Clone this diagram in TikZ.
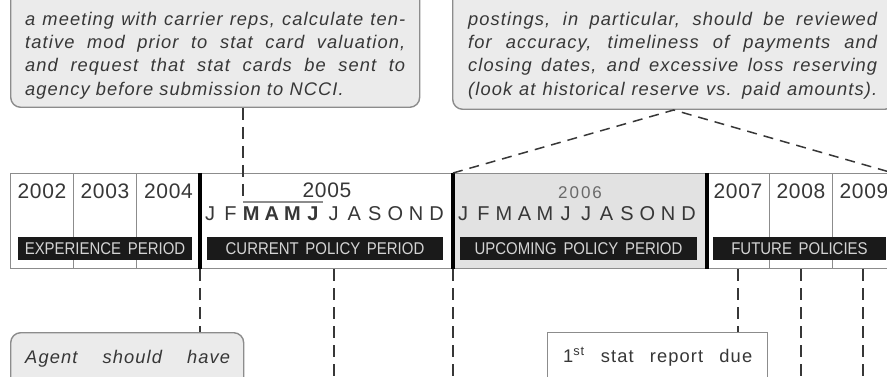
\documentclass[tikz,border=0pt]{standalone}
\usepackage{fontspec}
\setmainfont{Liberation Sans}
\newfontfamily\notefont[LetterSpace=6]{Liberation Sans}
\newfontfamily\barfont[FakeStretch=0.88,WordSpace=1.6]{Liberation Sans}
\newfontfamily\yearfont[LetterSpace=3]{Liberation Sans}
\newfontfamily\spacedfont[LetterSpace=12]{Liberation Sans}
\usetikzlibrary{positioning}
\definecolor{Ink}{RGB}{55,55,55}
\definecolor{Rule}{RGB}{140,140,140}
\definecolor{Shade}{RGB}{235,235,235}
\definecolor{Upcoming}{RGB}{226,226,226}
\definecolor{Bar}{RGB}{26,26,26}
\definecolor{BarText}{RGB}{212,212,212}
\definecolor{Dash}{RGB}{55,55,55}

\begin{document}
\begin{tikzpicture}[x=1pt,y=-1pt,
 notebox/.style={draw=Rule,fill=Shade,line width=1.4pt,rounded corners=10pt,inner sep=0pt},
 notetext/.style={inner sep=0pt,text width=#1,align=justify,text=Ink,anchor=base west,
   font=\notefont\itshape\fontsize{18.3}{23.2}\selectfont},
 statbox/.style={draw=Rule,fill=white,line width=1.4pt,inner sep=0pt},
 cell/.style={draw=Rule,fill=white,line width=1.2pt,inner sep=0pt,minimum height=95pt,anchor=north west},
 bar/.style={fill=Bar,text=BarText,font=\barfont\fontsize{17}{17}\selectfont,inner sep=0pt,minimum height=23pt},
 year/.style={font=\yearfont\fontsize{21}{21}\selectfont,text=Ink,inner sep=0pt,anchor=base},
 month/.style={font=\fontsize{20}{20}\selectfont,text=Ink,inner sep=0pt,anchor=base},
 divider/.style={line width=4pt,black},
 link/.style={draw=Dash,line width=2.2pt,dash pattern=on 12pt off 7pt},
 slant/.style={draw=Dash,line width=1.5pt,dash pattern=on 10pt off 7pt}]
\clip (0,0) rectangle (887,377);

% notes above the band
\node[notebox,minimum width=409pt,minimum height=160pt,anchor=south west] (tlnote) at (10,108) {};
\node[notetext=380pt] (tltext) at (25,25.5) {a meeting with carrier reps, calculate ten-\linebreak
 tative mod prior to stat card valuation,\linebreak
 and request that stat cards be sent to\linebreak
 agency before submission to NCCI.\par};
\node[notebox,minimum width=442pt,minimum height=160pt,anchor=south west] (trnote) at (452,110) {};
\node[notetext=409pt] (trtext) at (468,25.5) {\parfillskip=0pt
 postings, in particular, should be reviewed\linebreak
 for accuracy, timeliness of payments and\linebreak
 closing dates, and excessive loss reserving\linebreak
 (look at historical reserve vs. paid amounts).\par};

% the band: year cells and policy periods
\node[cell,minimum width=63pt] (y2002) at (10,173) {};
\node[cell,minimum width=63pt] (y2003) at (73,173) {};
\node[cell,minimum width=64pt] (y2004) at (136,173) {};
\node[cell,minimum width=253pt] (cur) at (200,173) {};
\node[cell,fill=Upcoming,minimum width=253pt] (upc) at (453,173) {};
\node[cell,minimum width=63pt] (y2007) at (706,173) {};
\node[cell,minimum width=63pt] (y2008) at (769,173) {};
\node[cell,minimum width=61pt] (y2009) at (832,173) {};
\coordinate (fut) at (893,173);
\draw[divider] (cur.north west) -- (cur.south west);
\draw[divider] (upc.north west) -- (upc.south west);
\draw[divider] (upc.north east) -- (upc.south east);

\node[year] (t2002) at (42,199) {2002};
\node[year] (t2003) at (105,199) {2003};
\node[year] (t2004) at (168.5,199) {2004};
\node[year] (t2005) at (327,198) {2005};
\node[year,font=\spacedfont\fontsize{17}{17}\selectfont,text=Ink!75] (t2006) at (580,199) {2006};
\node[year] (t2007) at (738,199) {2007};
\node[year] (t2008) at (801,199) {2008};
\node[year] (t2009) at (864,199) {2009};

\foreach \m [count=\i from 0] in {J,F,\textbf{M},\textbf{A},\textbf{M},\textbf{J},J,A,S,O,N,D}
  \node[month] (m05-\i) at (210+20.6*\i,221) {\m};
\foreach \m [count=\i from 0] in {J,F,M,A,M,J,J,A,S,O,N,D}
  \node[month] (m06-\i) at (463+20.5*\i,221) {\m};

\node[bar,minimum width=174pt] (expbar) at (105,248.5) {EXPERIENCE PERIOD};
\node[bar,minimum width=236pt] (curbar) at (325,248.5) {CURRENT POLICY PERIOD};
\node[bar,minimum width=237pt] (upcbar) at (578.5,248.5) {UPCOMING POLICY PERIOD};
\node[bar,minimum width=173pt] (futbar) at (799.5,248.5) {FUTURE POLICIES};

% notes below the band
\node[notebox,minimum width=233pt,minimum height=100pt,anchor=north west] (agent) at (10,332) {};
\node[notetext=205pt] (agenttext) at (25,363) {\parfillskip=0pt Agent should have\par};
\node[statbox,minimum width=220pt,minimum height=100pt,anchor=north west] (stat) at (547,332) {};
\node[notetext=189pt,font=\notefont\fontsize{18.3}{23}\selectfont] (stattext) at (563,362)
 {\parfillskip=0pt 1\textsuperscript{st} stat report due\par};

% connectors
\coordinate (bend) at (243,202);
\coordinate (bendend) at (323,202);
\draw[link] (tlnote.south -| bend) -- (bend);
\draw[Rule,line width=1.2pt] (bend) -- (bendend);
\draw[slant] (upc.north west) -- (trnote.south) -- (fut);

\draw[link] (cur.south west) -- (agent.north -| cur.south west);
\draw[link] (m05-6 |- cur.south) -- ++(0,120);
\draw[link] (upc.south west) -- ++(0,120);
\draw[link] (y2007.south) -- (stat.north -| y2007.south);
\draw[link] (y2008.south) -- ++(0,120);
\draw[link] (y2009.south) -- ++(0,120);
\end{tikzpicture}
\end{document}
